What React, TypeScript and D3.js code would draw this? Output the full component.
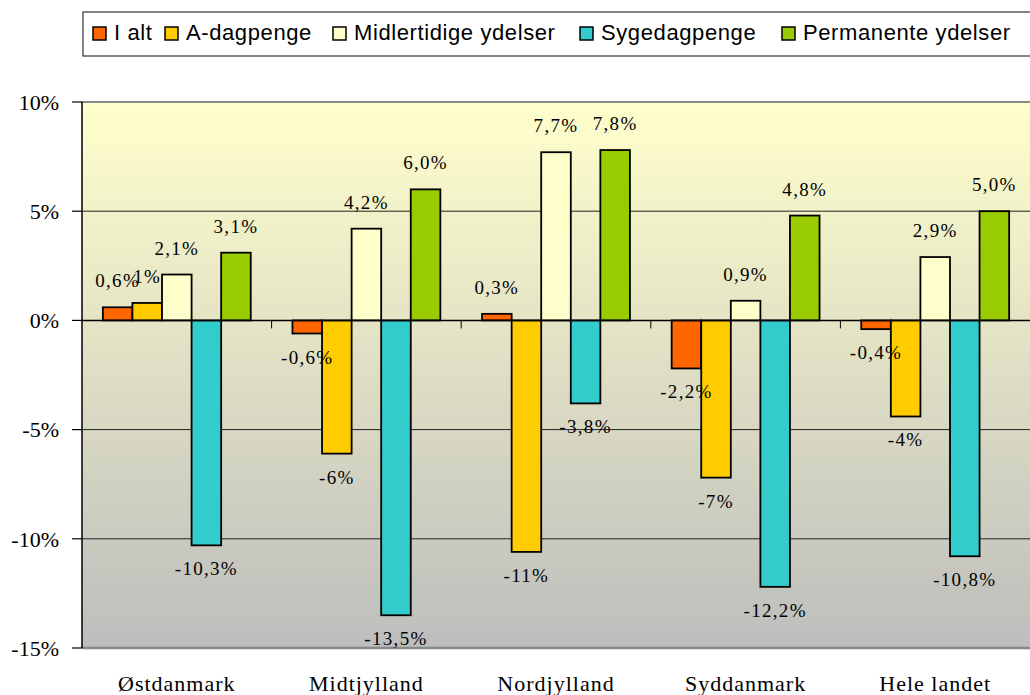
import React from "react";
import * as d3 from "d3";

const categories = ["Østdanmark", "Midtjylland", "Nordjylland", "Syddanmark", "Hele landet"];
const seriesNames = ["I alt", "A-dagpenge", "Midlertidige ydelser", "Sygedagpenge", "Permanente ydelser"];
const iAlt = [0.6, -0.6, 0.3, -2.2, -0.4];
const aDagpenge = [0.8, -6.1, -10.6, -7.2, -4.4];
const midlertidige = [2.1, 4.2, 7.7, 0.9, 2.9];
const sygedagpenge = [-10.3, -13.5, -3.8, -12.2, -10.8];
const permanente = [3.1, 6.0, 7.8, 4.8, 5.0];
const decimals = [1, 0, 1, 1, 1];
const yTicks = [10, 5, 0, -5, -10, -15];

const seriesValues = [iAlt, aDagpenge, midlertidige, sygedagpenge, permanente];
const colors = ["#FF6600", "#FFCC00", "#FFFFCC", "#33CCCC", "#99CC00"];
// legend marker x positions
const legendX = [93, 165, 333, 580, 782];

const SERIF = "Liberation Serif, Times New Roman, serif";
const SANS = "Liberation Sans, Arial, sans-serif";

const margin = { left: 82, top: 102, right: 0, bottom: 47 };
const W = 1030;
const H = 695;

const App = () => {
  const plotRight = W;
  const plotBottom = H - margin.bottom;

  const x = d3.scaleBand<string>().domain(categories).range([margin.left, plotRight]).padding(0);
  const bw = x.bandwidth();
  const gap = bw * 0.11;
  const xs = d3.scaleBand<number>().domain(d3.range(seriesNames.length)).range([gap, bw - gap]).padding(0);
  const y = d3.scaleLinear().domain([-15, 10]).range([plotBottom, margin.top]);

  const fmt = (v: number, d: number) => v.toFixed(d).replace(".", ",") + "%";

  return (
    <div style={{ position: "absolute", left: 0, top: 0 }}>
      <svg width={W} height={H} style={{ display: "block" }}>
        <defs>
          <linearGradient id="bg" x1="0" y1="0" x2="0" y2="1">
            <stop offset="0%" stopColor="#FFFFCC" />
            <stop offset="100%" stopColor="#BDBDBD" />
          </linearGradient>
        </defs>
        <rect width={W} height={H} fill="#fff" />

        {/* legend */}
        <rect x={83} y={12} width={W} height={44} fill="#fff" stroke="#333" strokeWidth={1.2} />
        {seriesNames.map((s, i) => (
          <g key={s}>
            <rect x={legendX[i]} y={27} width={13} height={13} fill={colors[i]} stroke="#000" strokeWidth={1.5} />
            <text x={legendX[i] + 21} y={40} style={{ fontFamily: SANS, fontSize: 22, letterSpacing: 0.6 }} fill="#000">
              {s}
            </text>
          </g>
        ))}

        {/* plot area */}
        <rect x={margin.left} y={margin.top} width={plotRight - margin.left} height={plotBottom - margin.top} fill="url(#bg)" />
        {yTicks.filter(t => t > -15 && t < 10 && t !== 0).map(t => (
          <line key={t} x1={margin.left} x2={plotRight} y1={y(t)} y2={y(t)} stroke="#222" strokeWidth={1} />
        ))}
        <line x1={margin.left} x2={plotRight} y1={y(10)} y2={y(10)} stroke="#888" strokeWidth={2} />
        <line x1={margin.left} x2={plotRight} y1={y(-15)} y2={y(-15)} stroke="#888" strokeWidth={2.5} />

        {/* bars */}
        {categories.map((c, ci) => (
          <g key={c} transform={`translate(${x(c)},0)`}>
            {seriesValues.map((vals, si) => {
              const v = vals[ci];
              return (
                <rect
                  key={si}
                  x={xs(si)}
                  y={Math.min(y(v), y(0))}
                  width={xs.bandwidth()}
                  height={Math.abs(y(v) - y(0))}
                  fill={colors[si]}
                  stroke="#000"
                  strokeWidth={1.8}
                />
              );
            })}
          </g>
        ))}

        {/* zero axis */}
        <line x1={margin.left} x2={plotRight} y1={y(0)} y2={y(0)} stroke="#000" strokeWidth={1.5} />
        {categories.slice(1).map(c => (
          <line key={c} x1={x(c)} x2={x(c)} y1={y(0)} y2={y(0) + 8} stroke="#000" strokeWidth={1} />
        ))}

        {/* y axis */}
        <line x1={margin.left} x2={margin.left} y1={margin.top} y2={plotBottom} stroke="#000" strokeWidth={1.5} />
        {yTicks.map(t => (
          <g key={t}>
            <line x1={margin.left - 10} x2={margin.left} y1={y(t)} y2={y(t)} stroke="#000" strokeWidth={1.2} />
            <text x={59} y={y(t)} dy="0.35em" textAnchor="end" style={{ fontFamily: SERIF, fontSize: 22 }} fill="#000">
              {t}%
            </text>
          </g>
        ))}

        {/* value labels */}
        {categories.map((c, ci) => (
          <g key={c} transform={`translate(${x(c)},0)`}>
            {seriesValues.map((vals, si) => {
              const v = vals[ci];
              const cx = (xs(si) as number) + xs.bandwidth() / 2;
              const ty = v >= 0 ? y(v) - 20 : y(v) + 30;
              return (
                <text
                  key={si}
                  x={cx}
                  y={ty}
                  textAnchor="middle"
                  style={{ fontFamily: SERIF, fontSize: 19, letterSpacing: 1.3 }}
                  fill="#000"
                >
                  {fmt(v, decimals[si])}
                </text>
              );
            })}
          </g>
        ))}

        {/* category labels */}
        {categories.map(c => (
          <text
            key={c}
            x={(x(c) as number) + bw / 2}
            y={691}
            textAnchor="middle"
            style={{ fontFamily: SERIF, fontSize: 22, letterSpacing: 1 }}
            fill="#000"
          >
            {c}
          </text>
        ))}
      </svg>
    </div>
  );
};

export default App;
